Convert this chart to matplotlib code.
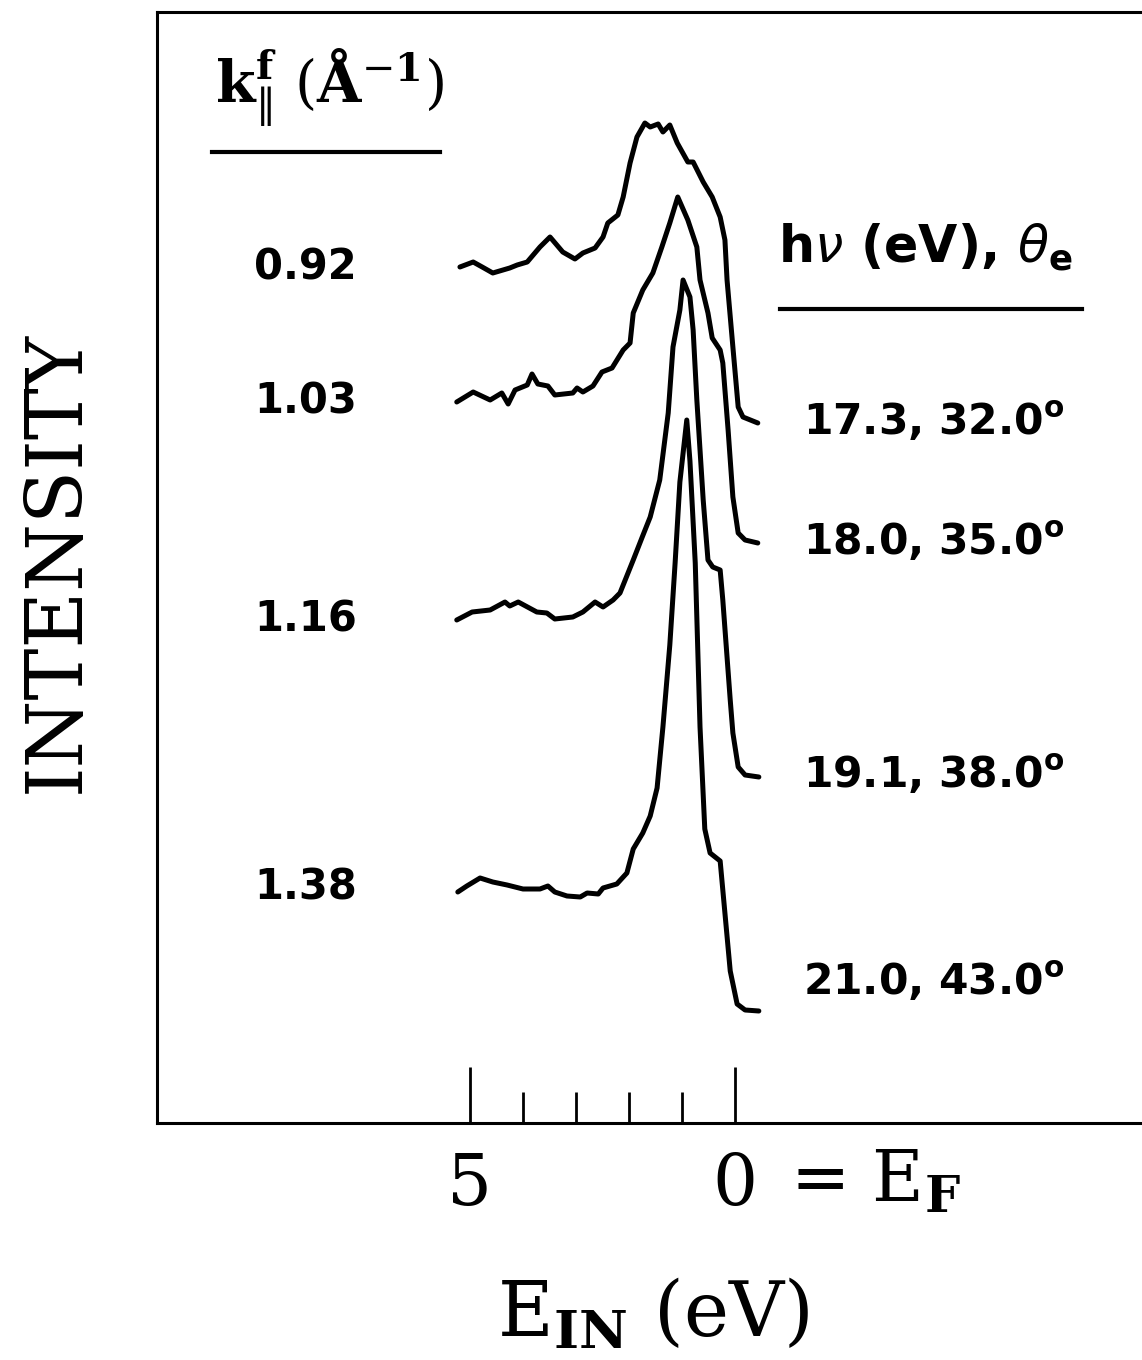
import numpy as np
import matplotlib
matplotlib.use("Agg")
import matplotlib.pyplot as plt
from matplotlib.lines import Line2D

plt.rcParams['mathtext.fontset'] = 'dejavusans'

# binding energy (eV, below E_F) and intensity (arb. units, offset included)
e_092 = [5.19, 4.94, 4.77, 4.57, 4.25, 4.11, 3.92, 3.68, 3.49, 3.25, 3.02, 2.87, 2.64, 2.49,
         2.40, 2.21, 2.11, 1.98, 1.85, 1.70, 1.60, 1.45, 1.36, 1.23, 1.09, 0.89, 0.79, 0.60,
         0.43, 0.28, 0.19, 0.15, 0.04, -0.06, -0.15, -0.43]
i_092 = [8.56, 8.61, 8.56, 8.50, 8.55, 8.58, 8.61, 8.76, 8.86, 8.71, 8.64, 8.70, 8.75, 8.86,
         9.00, 9.08, 9.26, 9.60, 9.86, 10.00, 9.96, 9.99, 9.91, 9.98, 9.80, 9.61, 9.61, 9.41,
         9.26, 9.06, 8.83, 8.43, 7.76, 7.16, 7.06, 7.00]

e_103 = [5.25, 4.94, 4.62, 4.40, 4.28, 4.15, 3.92, 3.83, 3.72, 3.53, 3.40, 3.06, 2.98, 2.87,
         2.68, 2.51, 2.32, 2.11, 1.98, 1.92, 1.74, 1.55, 1.38, 1.23, 1.08, 0.89, 0.72, 0.66,
         0.51, 0.43, 0.28, 0.23, 0.13, 0.04, -0.06, -0.19, -0.43]
i_103 = [7.21, 7.31, 7.23, 7.30, 7.19, 7.33, 7.38, 7.49, 7.39, 7.37, 7.28, 7.30, 7.35, 7.31,
         7.37, 7.51, 7.55, 7.73, 7.80, 8.10, 8.33, 8.50, 8.76, 9.00, 9.26, 9.03, 8.76, 8.43,
         8.10, 7.85, 7.73, 7.60, 6.93, 6.26, 5.90, 5.83, 5.80]

e_116 = [5.25, 4.96, 4.62, 4.34, 4.25, 4.09, 3.74, 3.55, 3.40, 3.06, 2.87, 2.64, 2.49, 2.30,
         2.17, 1.92, 1.75, 1.60, 1.42, 1.26, 1.17, 1.04, 0.98, 0.85, 0.79, 0.72, 0.60, 0.51,
         0.42, 0.28, 0.23, 0.09, 0.04, -0.06, -0.19, -0.45]
i_116 = [5.03, 5.11, 5.13, 5.21, 5.17, 5.21, 5.11, 5.10, 5.04, 5.06, 5.11, 5.21, 5.16, 5.23,
         5.30, 5.63, 5.86, 6.06, 6.43, 7.10, 7.76, 8.13, 8.43, 8.26, 7.93, 7.23, 6.23, 5.63,
         5.56, 5.53, 5.23, 4.23, 3.90, 3.56, 3.48, 3.46]

e_138 = [5.23, 5.06, 4.81, 4.57, 4.30, 4.00, 3.68, 3.53, 3.40, 3.17, 2.92, 2.79, 2.58, 2.49,
         2.23, 2.04, 1.92, 1.74, 1.60, 1.47, 1.36, 1.23, 1.13, 1.04, 0.91, 0.85, 0.75, 0.66,
         0.57, 0.47, 0.28, 0.23, 0.09, -0.04, -0.19, -0.45]
i_138 = [2.31, 2.37, 2.45, 2.41, 2.38, 2.34, 2.34, 2.37, 2.31, 2.27, 2.26, 2.30, 2.29, 2.35,
         2.39, 2.50, 2.74, 2.90, 3.07, 3.35, 3.96, 4.78, 5.60, 6.41, 7.03, 6.62, 5.60, 3.96,
         2.94, 2.70, 2.62, 2.33, 1.52, 1.19, 1.13, 1.12]

k_labels = ["0.92", "1.03", "1.16", "1.38"]
k_label_y = [8.55, 7.21, 5.03, 2.35]
hv_labels = ["17.3, 32.0", "18.0, 35.0", "19.1, 38.0", "21.0, 43.0"]
hv_label_y = [6.88, 5.68, 3.35, 1.28]

fig = plt.figure(figsize=(11.42, 13.6), dpi=100)
ax = fig.add_axes([157 / 1142, 237 / 1360, 1000 / 1142, 1111 / 1360])

for e, i in [(e_092, i_092), (e_103, i_103), (e_116, i_116), (e_138, i_138)]:
    ax.plot(e, i, color='black', lw=3.6, solid_joinstyle='round', solid_capstyle='round')

ax.set_xlim((735 - 157) / 53, (735 - 1157) / 53)
ax.set_ylim(0, 11.11)

for s in ax.spines.values():
    s.set_linewidth(2.2)
ax.set_yticks([])
ax.set_xticks([5, 0])
ax.set_xticks([4, 3, 2, 1], minor=True)
ax.tick_params(axis='x', which='major', direction='in', length=40, width=2.0, pad=20,
               labelsize=51)
ax.tick_params(axis='x', which='minor', direction='in', length=22, width=2.0)
ax.set_xticklabels(['5', '0'], family='DejaVu Serif')

ax.text(-1.04, -79 / 1111, r'= E$_{\mathbf{F}}$', transform=ax.get_xaxis_transform(),
        ha='left', va='baseline', fontsize=51, family='DejaVu Serif',
        math_fontfamily='dejavuserif')

# k labels (left) and photon energy / angle labels (right)
for lab, y in zip(k_labels, k_label_y):
    ax.text(8.1, y, lab, ha='center', va='center', fontsize=30, fontweight='bold')
for lab, y in zip(hv_labels, hv_label_y):
    ax.text(-1.29, y, lab + r'$^{\mathbf{o}}$', ha='left', va='baseline', fontsize=30.5,
            fontweight='bold')

fig.text(215 / 1142, 1 - 102 / 1360,
         r'$\mathbf{k}^{\mathbf{f}}_{\|}\ (\mathbf{\AA}^{-\mathbf{1}})$',
         ha='left', va='baseline', fontsize=41, math_fontfamily='dejavuserif')
fig.add_artist(Line2D([212 / 1142, 440 / 1142], [1 - 152 / 1360] * 2, color='black', lw=3))

fig.text(778 / 1142, 1 - 262 / 1360, r'h$\nu$ (eV), $\theta_{\mathbf{e}}$',
         ha='left', va='baseline', fontsize=36.5, fontweight='bold')
fig.add_artist(Line2D([780 / 1142, 1082 / 1142], [1 - 309 / 1360] * 2, color='black', lw=3))

fig.text(57 / 1142, 1 - 562 / 1360, 'INTENSITY', rotation=90, ha='center', va='center',
         fontsize=56, family='DejaVu Serif')
fig.text(497 / 1142, 1 - 1336 / 1360, r'E$_{\mathbf{IN}}$ (eV)', ha='left', va='baseline',
         fontsize=55, family='DejaVu Serif', math_fontfamily='dejavuserif')

fig.savefig('out.png', dpi=100)
